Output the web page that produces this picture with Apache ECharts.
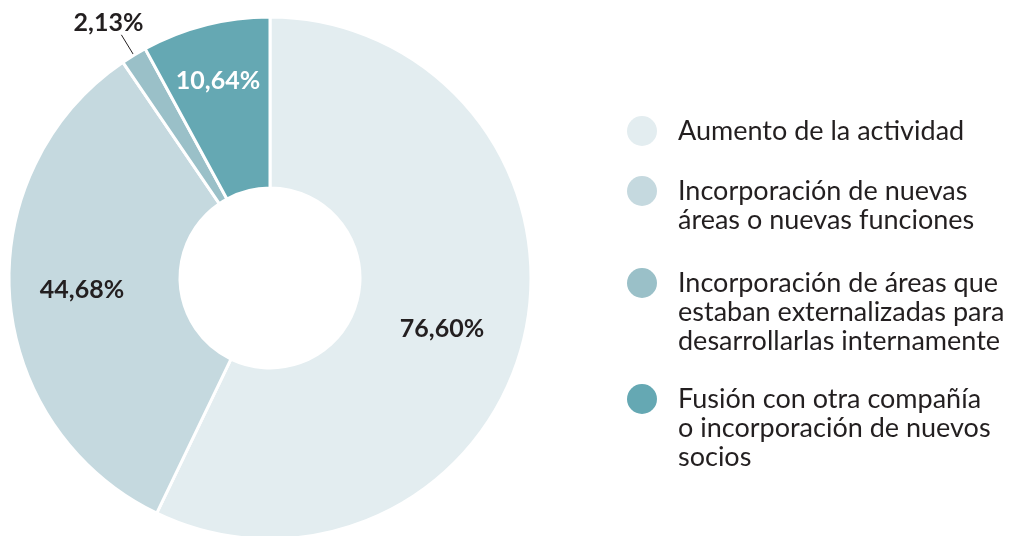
<!DOCTYPE html>
<html>
<head>
<meta charset="utf-8">
<script src="https://cdn.jsdelivr.net/npm/echarts@6/dist/echarts.min.js"></script>
<style>
  html, body { margin: 0; padding: 0; background: #ffffff; }
  #chart { width: 1010px; height: 536px; }
</style>
</head>
<body>
<div id="chart"></div>
<script>
// Motivos del crecimiento de la plantilla (porcentaje de respuestas)
const categories = [
  'Aumento de la actividad',
  'Incorporación de nuevas\náreas o nuevas funciones',
  'Incorporación de áreas que\nestaban externalizadas para\ndesarrollarlas internamente',
  'Fusión con otra compañía\no incorporación de nuevos\nsocios'
];
const values = [76.60, 44.68, 2.13, 10.64];
const colors = ['#e3edf0', '#c5d9df', '#9ac0c8', '#65a8b3'];

const fontFamily = 'Lato, "Noto Sans", sans-serif';
const fmt = v => v.toFixed(2).replace('.', ',') + '%';

// per-slice label styling
const labelStyles = [
  { position: 'inside', color: '#231f20', offset: [-2, 11] },
  { position: 'inside', color: '#231f20', offset: [-10, -1] },
  { position: 'outside', color: '#231f20', offset: [22, -12] },
  { position: 'inside', color: '#ffffff', offset: [-8, -24] }
];

const pieData = categories.map((name, i) => ({
  name,
  value: values[i],
  itemStyle: { color: colors[i] },
  label: labelStyles[i],
  labelLine: { show: i === 2 }
}));

// legend drawn as graphic items next to the ring
const legendX = 642, textX = 678, lineH = 29;
const legendY = [131, 191, 283, 399];
const legendGraphics = [];
categories.forEach((name, i) => {
  legendGraphics.push({
    type: 'circle',
    shape: { cx: legendX, cy: legendY[i], r: 15 },
    style: { fill: colors[i] }
  });
  legendGraphics.push({
    type: 'text',
    x: textX,
    y: legendY[i] - lineH / 2,
    style: {
      text: name,
      fill: '#231f20',
      font: '400 27px ' + fontFamily,
      lineHeight: lineH,
      verticalAlign: 'top'
    }
  });
});

const chart = echarts.init(document.getElementById('chart'));
chart.setOption({
  animation: false,
  graphic: legendGraphics,
  series: [{
    type: 'pie',
    center: [270, 278],
    radius: [90, 261],
    startAngle: 90,
    clockwise: true,
    avoidLabelOverlap: false,
    itemStyle: { borderColor: '#ffffff', borderWidth: 3 },
    label: {
      show: true,
      formatter: p => fmt(p.value),
      fontFamily,
      fontWeight: 'bold',
      fontSize: 25,
      distanceToLabelLine: 0
    },
    labelLine: {
      length: 24,
      length2: 0,
      lineStyle: { color: '#231f20', width: 1 }
    },
    emphasis: { disabled: true },
    data: pieData
  }]
});
</script>
</body>
</html>
